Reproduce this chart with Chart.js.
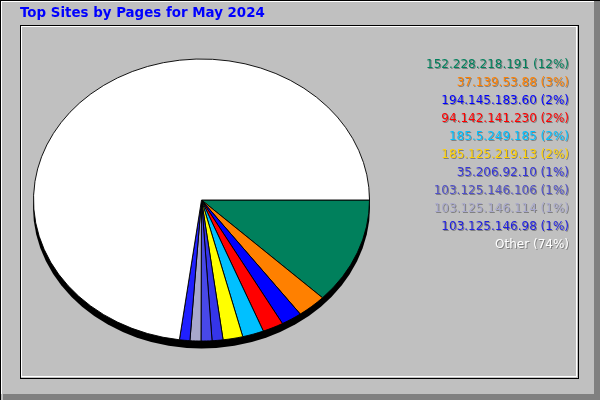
<!DOCTYPE html>
<html>
<head>
<meta charset="utf-8">
<script src="https://cdn.jsdelivr.net/npm/chart.js@4.4.1/dist/chart.umd.min.js"></script>
<style>
  html, body { margin: 0; padding: 0; background: #c0c0c0; }
  #frame { position: relative; width: 600px; height: 400px; background: #c0c0c0; overflow: hidden; }
  .ln { position: absolute; }
  #title { position: absolute; left: 20px; top: 5px; font-family: "DejaVu Sans", sans-serif; font-weight: bold; font-size: 13.4px; color: #0000ff; white-space: nowrap; }
  #legend { position: absolute; right: 31px; top: 55px; font-family: "DejaVu Sans", sans-serif; font-size: 12px; text-align: right; }
  #legend div { height: 18px; line-height: 18px; white-space: nowrap; text-shadow: 1px 1px 0 #808080; }
  canvas { position: absolute; left: 0; top: 0; }
</style>
</head>
<body>
<div id="frame">
  <div class="ln" style="left:0;top:0;width:600px;height:1px;background:#000"></div>
  <div class="ln" style="left:0;top:0;width:1px;height:400px;background:#000"></div>
  <div class="ln" style="left:1px;top:1px;width:593px;height:1px;background:#fff"></div>
  <div class="ln" style="left:1px;top:1px;width:1px;height:393px;background:#fff"></div>
  <div class="ln" style="left:594px;top:1px;width:6px;height:399px;background:#808080"></div>
  <div class="ln" style="left:3px;top:394px;width:597px;height:6px;background:#808080"></div>
  <div class="ln" style="left:20px;top:25px;width:557px;height:352px;border:1px solid #000"></div>
  <div class="ln" style="left:21px;top:26px;width:556px;height:351px;border:1px solid #fff;box-sizing:border-box"></div>
  <canvas id="c" width="600" height="400"></canvas>
  <div id="title"></div>
  <div id="legend"></div>
</div>
<script>
const titleText = "Top Sites by Pages for May 2024";
const sites = ["152.228.218.191", "37.139.53.88", "194.145.183.60", "94.142.141.230", "185.5.249.185", "185.125.219.13", "35.206.92.10", "103.125.146.106", "103.125.146.114", "103.125.146.98", "Other"];
const pageShare = [12.2, 2.8, 2.0, 2.0, 2.05, 1.9, 1.05, 1.05, 1.05, 1.0, 72.9];
const percentLabels = ["12%", "3%", "2%", "2%", "2%", "2%", "1%", "1%", "1%", "1%", "74%"];
const sliceColors = ["#00805c", "#ff8000", "#0000ff", "#ff0000", "#00c0ff", "#ffff00", "#3535e8", "#4848e8", "#a8a8cc", "#2020ff", "#ffffff"];
const legendColors = ["#00805c", "#ff8000", "#0000ff", "#ff0000", "#00c0ff", "#ffd000", "#3535d8", "#5050c8", "#a8a8cc", "#2020e0", "#ffffff"];

document.getElementById('title').textContent = titleText;
const lg = document.getElementById('legend');
sites.forEach((s, i) => {
  const d = document.createElement('div');
  d.textContent = s + " (" + percentLabels[i] + ")";
  d.style.color = legendColors[i];
  lg.appendChild(d);
});

const squash = 141 / 168;
const depth = 7;

const ellipsePlugin = {
  id: 'ellipse',
  beforeDatasetsDraw(chart) {
    const ctx = chart.ctx;
    const arc = chart.getDatasetMeta(0).data[0];
    const x = arc.x, y = arc.y, r = arc.outerRadius;
    ctx.save();
    ctx.translate(x, y);
    ctx.scale(1, squash);
    ctx.translate(-x, -y);
    ctx.beginPath();
    ctx.arc(x, y + depth / squash, r + 0.5, 0, Math.PI * 2);
    ctx.fillStyle = '#000';
    ctx.fill();
  },
  afterDatasetsDraw(chart) {
    chart.ctx.restore();
  }
};

new Chart(document.getElementById('c'), {
  type: 'pie',
  data: {
    labels: sites,
    datasets: [{
      data: pageShare,
      backgroundColor: sliceColors,
      borderColor: '#000000',
      borderWidth: 1,
      clip: false
    }]
  },
  options: {
    responsive: false,
    devicePixelRatio: 1,
    animation: false,
    events: [],
    rotation: 90,
    layout: { padding: { left: 33, right: 230, top: 31, bottom: 31 } },
    plugins: { legend: { display: false }, title: { display: false }, tooltip: { enabled: false } }
  },
  plugins: [ellipsePlugin]
});
</script>
</body>
</html>
